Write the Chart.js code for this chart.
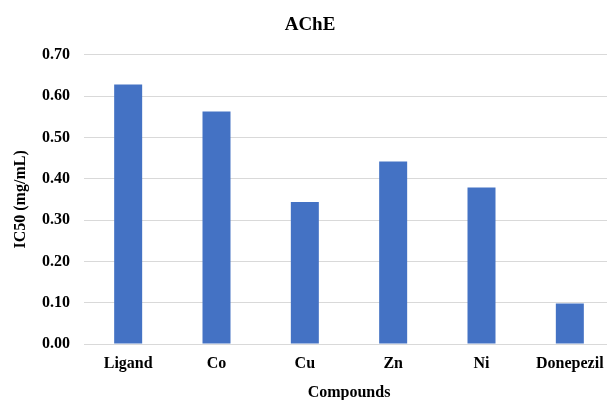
<!DOCTYPE html>
<html>
<head>
<meta charset="utf-8">
<script src="https://cdn.jsdelivr.net/npm/chart.js@4.4.1/dist/chart.umd.min.js"></script>
<style>
  html, body { margin: 0; padding: 0; overflow: hidden; background: #ffffff; }
  #wrap { position: relative; width: 614px; height: 400px; }
</style>
</head>
<body>
<div id="wrap"><canvas id="chart"></canvas></div>
<script>
// IC50 values against acetylcholinesterase (mg/mL)
const compounds = ['Ligand', 'Co', 'Cu', 'Zn', 'Ni', 'Donepezil'];
const ic50Values = [0.628, 0.563, 0.344, 0.442, 0.379, 0.098];
const chartTitle = 'AChE';
const xAxisTitle = 'Compounds';
const yAxisTitle = 'IC50 (mg/mL)';

const serifBold = (size) => ({ family: "'Liberation Serif', 'Times New Roman', serif", size: size, weight: 'bold' });

new Chart(document.getElementById('chart'), {
  type: 'bar',
  data: {
    labels: compounds,
    datasets: [{
      label: yAxisTitle,
      data: ic50Values,
      backgroundColor: '#4472C4',
      borderWidth: 0,
      categoryPercentage: 1.0,
      barPercentage: 0.317
    }]
  },
  options: {
    responsive: true,
    maintainAspectRatio: false,
    animation: false,
    layout: { padding: { left: 6, right: 0, top: 0, bottom: 0 } },
    plugins: {
      legend: { display: false },
      tooltip: { enabled: false },
      title: {
        display: true,
        text: chartTitle,
        color: '#000000',
        font: serifBold(19),
        padding: { top: 14, bottom: 18 }
      }
    },
    scales: {
      x: {
        grid: { display: false, drawTicks: false },
        border: { display: false },
        ticks: { color: '#000000', font: serifBold(16), padding: 10, maxRotation: 0 },
        title: {
          display: true,
          text: xAxisTitle,
          color: '#000000',
          font: serifBold(16),
          padding: { top: 8, bottom: -2 }
        },
        afterFit: (scale) => { scale.height = 56; }
      },
      y: {
        min: 0,
        max: 0.7,
        grid: { color: '#d9d9d9', lineWidth: 1, drawTicks: false },
        border: { display: false },
        ticks: {
          stepSize: 0.1,
          color: '#000000',
          font: serifBold(16),
          padding: 14,
          callback: (v) => Number(v).toFixed(2)
        },
        title: {
          display: true,
          text: yAxisTitle,
          color: '#000000',
          font: serifBold(16),
          padding: { top: 5.5, bottom: 10 }
        },
        afterFit: (scale) => { scale.width = 78; }
      }
    }
  }
});
</script>
</body>
</html>
